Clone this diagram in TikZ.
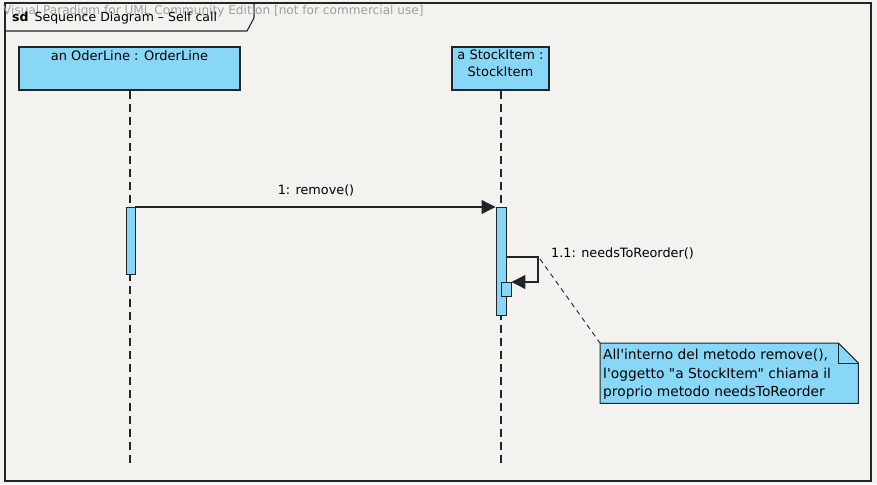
\documentclass[tikz,border=0pt]{standalone}
\usepackage{fontspec}
\newfontfamily\dvs{DejaVu Sans}
\usetikzlibrary{arrows.meta,calc}
\definecolor{paper}{HTML}{F4F2EE}
\definecolor{lblue}{HTML}{89D7F7}
\definecolor{ink}{HTML}{1E262A}
\definecolor{wm}{HTML}{A0A0A0}
\begin{document}
\begin{tikzpicture}[x=1pt,y=-1pt,
  font=\dvs,
  frameline/.style={draw=ink, line width=1.1pt},
  headbox/.style={draw=ink, line width=1.1pt, fill=lblue, inner sep=0pt},
  headtext/.style={font=\dvs\fontsize{13}{17}\selectfont, align=center, anchor=north, inner sep=0pt},
  lifeline/.style={draw=ink, line width=1.1pt, dash pattern=on 8pt off 5pt},
  actbox/.style={draw=ink, line width=0.9pt, fill=lblue, inner sep=0pt, anchor=north},
  msg/.style={draw=ink, line width=1.1pt, -{Triangle[length=14pt,width=14pt]}},
  lbl/.style={font=\dvs\fontsize{12.8}{15}\selectfont, inner sep=0pt},
  notelink/.style={draw=ink, line width=0.9pt, dash pattern=on 5pt off 4pt}]
\useasboundingbox (0,0) rectangle (877,484);
\fill[paper] (0,0) rectangle (877,484);
% frame
\draw[frameline] (5,3) rectangle (871,481);
\draw[frameline] (5,31) -- (247,31) -- (254,18) -- (254,3);
\node[anchor=west, inner sep=0pt, text=wm, font=\dvs\fontsize{12.1}{14}\selectfont] (wmk) at (3,11) {Visual Paradigm for UML Community Edition [not for commercial use]};
\node[anchor=west, inner sep=0pt, font=\dvs\fontsize{12.5}{15}\selectfont] (title) at (12,18) {\textbf{sd}\, Sequence Diagram – Self call};
% lifeline heads
\node[headbox, minimum width=221pt, minimum height=43pt] (ol) at (129.5,68.5) {};
\node[headtext] (olt) at ($(ol.north)+(0,3.5)$) {an OderLine : OrderLine};
\node[headbox, minimum width=97pt, minimum height=43pt] (si) at (500.5,68.5) {};
\node[headtext] (sit) at ($(si.north)+(0,3)$) {a StockItem :\\StockItem};
% lifelines
\coordinate (olend) at (130,466);
\coordinate (siend) at (501,466);
\draw[lifeline] (ol.south -| olend) -- (olend);
\draw[lifeline] (si.south -| siend) -- (siend);
% activations
\node[actbox, minimum width=9pt, minimum height=67pt] (act1) at (130.5,207) {};
\node[actbox, minimum width=10pt, minimum height=108pt] (act2) at (501,207) {};
\node[actbox, minimum width=10pt, minimum height=14pt] (act3) at (506,282) {};
% message 1
\draw[msg] (act1.north east) -- (act2.north west);
\node[lbl] (m1) at (316,190) {1: remove()};
% self call
\coordinate (sc1) at (538,257);
\coordinate (sc2) at (538,282);
\draw[msg] (act2.east |- sc1) -- (sc1) -- (sc2) -- (act3.north east);
\node[lbl, anchor=west] (m2) at (551,253) {1.1: needsToReorder()};
% note
\node[anchor=north west, minimum width=258pt, minimum height=60pt, inner sep=0pt] (note) at (600,343) {};
\draw[draw=ink, line width=1pt, fill=lblue]
  (note.north west) -- ($(note.north east)+(-20,0)$) -- ($(note.north east)+(0,20)$) -- (note.south east) -- (note.south west) -- cycle;
\draw[draw=ink, line width=1pt]
  ($(note.north east)+(-20,0)$) -- ($(note.north east)+(-20,20)$) -- ($(note.north east)+(0,20)$);
\node[anchor=north west, align=left, inner sep=0pt, font=\dvs\fontsize{13.8}{18.5}\selectfont] (notet) at ($(note.north west)+(3,6)$) {All'interno del metodo remove(),\\l'oggetto "a StockItem" chiama il\\proprio metodo needsToReorder};
\coordinate (nl) at (540,259);
\draw[notelink] (nl) -- (note.north west);
\end{tikzpicture}
\end{document}
